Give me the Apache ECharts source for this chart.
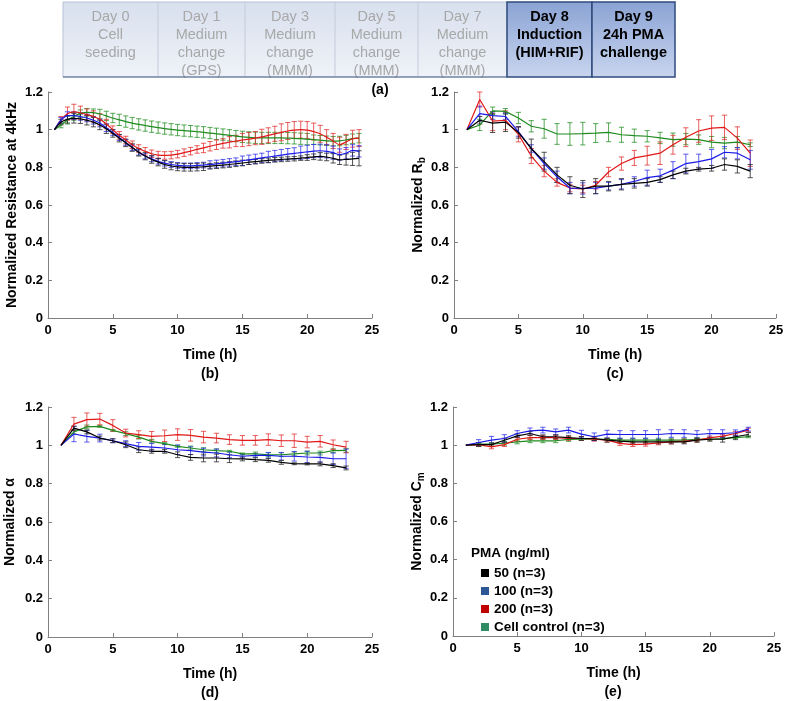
<!DOCTYPE html>
<html>
<head>
<meta charset="utf-8">
<script src="https://cdn.jsdelivr.net/npm/echarts@6/dist/echarts.min.js"></script>
<style>html,body{margin:0;padding:0;background:#fff}#c{width:787px;height:701px}</style>
</head>
<body>
<div id="c"></div>
<script>
// ---------------- DATA ----------------
const bannerText = [
  ['Day 0', 'Cell', 'seeding'],
  ['Day 1', 'Medium', 'change', '(GPS)'],
  ['Day 3', 'Medium', 'change', '(MMM)'],
  ['Day 5', 'Medium', 'change', '(MMM)'],
  ['Day 7', 'Medium', 'change', '(MMM)'],
  ['Day 8', 'Induction', '(HIM+RIF)'],
  ['Day 9', '24h PMA', 'challenge']
];
const groupNames = ['50 (n=3)', '100 (n=3)', '200 (n=3)', 'Cell control (n=3)'];
const legendTitle = 'PMA (ng/ml)';
const panelLabels = ['(a)', '(b)', '(c)', '(d)', '(e)'];
const yTitles = ['Normalized Resistance at 4kHz', 'Normalized R', 'Normalized α', 'Normalized C'];
const ySubs = ['', 'b', '', 'm'];
const xTitle = 'Time (h)';

// panel (b): resistance at 4 kHz, every 0.5 h
const hoursB = [0.5,1,1.5,2,2.5,3,3.5,4,4.5,5,5.5,6,6.5,7,7.5,8,8.5,9,9.5,10,10.5,11,11.5,12,12.5,13,13.5,14,14.5,15,15.5,16,16.5,17,17.5,18,18.5,19,19.5,20,20.5,21,21.5,22,22.5,23,23.5,24];
const b50  = [1.0,1.04,1.055,1.06,1.058,1.05,1.04,1.025,1.005,0.98,0.955,0.93,0.905,0.88,0.86,0.842,0.828,0.815,0.807,0.802,0.8,0.8,0.801,0.803,0.806,0.809,0.812,0.815,0.819,0.823,0.827,0.83,0.834,0.837,0.84,0.842,0.844,0.846,0.849,0.852,0.856,0.858,0.855,0.848,0.84,0.842,0.845,0.848];
const b50e = [0,0.015,0.02,0.025,0.025,0.025,0.025,0.025,0.025,0.02,0.02,0.02,0.02,0.02,0.02,0.02,0.02,0.02,0.02,0.02,0.02,0.02,0.02,0.02,0.015,0.015,0.015,0.015,0.015,0.015,0.012,0.012,0.012,0.012,0.012,0.012,0.012,0.012,0.012,0.015,0.015,0.02,0.02,0.025,0.025,0.03,0.035,0.04];
const b100  = [1.0,1.05,1.075,1.075,1.07,1.062,1.05,1.035,1.01,0.985,0.958,0.932,0.905,0.88,0.86,0.845,0.832,0.822,0.815,0.81,0.808,0.808,0.81,0.812,0.815,0.818,0.822,0.826,0.83,0.835,0.84,0.845,0.85,0.855,0.86,0.865,0.87,0.874,0.878,0.882,0.886,0.888,0.885,0.878,0.868,0.875,0.89,0.885];
const b100e = [0,0.015,0.02,0.02,0.02,0.02,0.02,0.02,0.02,0.015,0.015,0.015,0.015,0.015,0.015,0.015,0.015,0.015,0.015,0.015,0.015,0.015,0.015,0.015,0.02,0.02,0.02,0.02,0.02,0.025,0.025,0.025,0.025,0.03,0.03,0.03,0.03,0.03,0.035,0.035,0.035,0.035,0.035,0.035,0.03,0.03,0.03,0.03];
const b200  = [1.0,1.05,1.085,1.095,1.09,1.08,1.07,1.055,1.03,1.0,0.97,0.945,0.92,0.9,0.885,0.872,0.865,0.863,0.865,0.87,0.878,0.886,0.895,0.903,0.912,0.92,0.927,0.933,0.94,0.945,0.95,0.955,0.962,0.97,0.978,0.986,0.993,0.998,1.0,0.998,0.99,0.978,0.96,0.94,0.92,0.935,0.952,0.955];
const b200e = [0,0.02,0.035,0.04,0.035,0.03,0.03,0.03,0.025,0.02,0.02,0.02,0.02,0.02,0.02,0.02,0.02,0.02,0.02,0.02,0.02,0.02,0.02,0.025,0.025,0.025,0.025,0.03,0.03,0.035,0.035,0.035,0.04,0.04,0.04,0.045,0.045,0.045,0.045,0.045,0.045,0.045,0.04,0.04,0.04,0.04,0.045,0.045];
const bCtl  = [1.0,1.025,1.05,1.07,1.085,1.092,1.09,1.083,1.073,1.062,1.052,1.043,1.035,1.028,1.022,1.016,1.011,1.006,1.002,0.998,0.995,0.992,0.989,0.986,0.982,0.978,0.974,0.97,0.966,0.962,0.959,0.957,0.956,0.956,0.956,0.956,0.955,0.954,0.952,0.95,0.947,0.944,0.941,0.939,0.94,0.945,0.952,0.955];
const bCtle = [0,0.015,0.02,0.02,0.02,0.02,0.02,0.025,0.025,0.025,0.03,0.03,0.03,0.03,0.03,0.03,0.03,0.03,0.03,0.03,0.03,0.03,0.03,0.03,0.03,0.03,0.03,0.03,0.03,0.03,0.03,0.03,0.03,0.03,0.03,0.03,0.03,0.03,0.03,0.03,0.025,0.025,0.025,0.025,0.025,0.025,0.025,0.025];

// panels (c), (d), (e): hourly
const hours = [1,2,3,4,5,6,7,8,9,10,11,12,13,14,15,16,17,18,19,20,21,22,23];
const c50   = [1.0,1.05,1.035,1.04,0.985,0.9,0.83,0.76,0.705,0.685,0.70,0.70,0.71,0.715,0.72,0.735,0.76,0.78,0.79,0.795,0.815,0.805,0.78];
const c50e  = [0,0.02,0.05,0.05,0.03,0.05,0.05,0.04,0.045,0.045,0.04,0.025,0.03,0.025,0.02,0.015,0.02,0.015,0.01,0.015,0.03,0.035,0.035];
const c100  = [1.0,1.085,1.075,1.07,0.99,0.9,0.82,0.75,0.69,0.688,0.69,0.70,0.71,0.725,0.745,0.755,0.785,0.82,0.83,0.845,0.88,0.875,0.84];
const c100e = [0,0.04,0.02,0.015,0.025,0.02,0.03,0.03,0.03,0.03,0.03,0.02,0.025,0.025,0.04,0.035,0.045,0.05,0.04,0.05,0.03,0.03,0.05];
const c200  = [1.0,1.16,1.045,1.05,0.975,0.86,0.78,0.72,0.69,0.685,0.705,0.775,0.82,0.85,0.862,0.875,0.92,0.96,0.993,1.008,1.012,0.955,0.875];
const c200e = [0,0.04,0.05,0.05,0.04,0.04,0.03,0.02,0.02,0.02,0.02,0.025,0.035,0.04,0.05,0.06,0.05,0.05,0.06,0.065,0.065,0.06,0.07];
const cCtl  = [1.0,1.025,1.1,1.097,1.062,1.018,1.005,0.977,0.977,0.979,0.982,0.986,0.973,0.968,0.965,0.956,0.947,0.95,0.947,0.934,0.929,0.934,0.92];
const cCtle = [0,0.03,0.02,0.015,0.03,0.03,0.05,0.055,0.06,0.06,0.05,0.05,0.04,0.035,0.03,0.03,0.035,0.03,0.025,0.03,0.03,0.03,0.01];

const d50   = [1.0,1.09,1.07,1.038,1.024,1.003,0.977,0.969,0.969,0.951,0.937,0.934,0.934,0.93,0.929,0.925,0.922,0.911,0.904,0.903,0.903,0.894,0.882];
const d50e  = [0,0.01,0.01,0.01,0.01,0.015,0.015,0.01,0.01,0.015,0.015,0.02,0.02,0.02,0.01,0.01,0.01,0.01,0.005,0.005,0.01,0.01,0.01];
const d100  = [1.0,1.059,1.047,1.038,1.024,1.009,0.995,0.991,0.986,0.977,0.972,0.965,0.96,0.951,0.943,0.948,0.948,0.943,0.943,0.939,0.937,0.93,0.93];
const d100e = [0,0.04,0.03,0.02,0.01,0.015,0.02,0.02,0.02,0.025,0.02,0.02,0.02,0.015,0.01,0.01,0.015,0.02,0.025,0.03,0.025,0.03,0.05];
const d200  = [1.0,1.111,1.134,1.137,1.104,1.064,1.056,1.047,1.05,1.056,1.052,1.043,1.038,1.03,1.026,1.026,1.03,1.024,1.024,1.017,1.021,1.003,0.991];
const d200e = [0,0.035,0.035,0.03,0.03,0.02,0.02,0.025,0.03,0.03,0.03,0.03,0.025,0.025,0.025,0.025,0.03,0.03,0.035,0.03,0.03,0.025,0.03];
const dCtl  = [1.0,1.07,1.096,1.099,1.078,1.061,1.043,1.021,1.009,0.995,0.986,0.977,0.972,0.969,0.955,0.955,0.951,0.951,0.955,0.96,0.96,0.972,0.974];
const dCtle = [0,0.01,0.01,0.005,0.005,0.01,0.01,0.01,0.005,0.005,0.01,0.01,0.01,0.005,0.005,0.01,0.01,0.01,0.01,0.01,0.01,0.01,0.01];

const e50   = [1.0,1.003,1.003,1.026,1.049,1.061,1.044,1.044,1.04,1.035,1.035,1.026,1.021,1.017,1.017,1.017,1.017,1.017,1.026,1.031,1.031,1.044,1.056];
const e50e  = [0,0.01,0.01,0.01,0.01,0.01,0.01,0.01,0.01,0.01,0.01,0.01,0.01,0.01,0.01,0.01,0.01,0.01,0.01,0.01,0.015,0.015,0.01];
const e100  = [1.0,1.014,1.026,1.035,1.061,1.075,1.079,1.07,1.079,1.058,1.044,1.058,1.056,1.056,1.056,1.056,1.061,1.061,1.056,1.061,1.061,1.065,1.084];
const e100e = [0,0.015,0.02,0.02,0.015,0.015,0.015,0.015,0.015,0.02,0.02,0.02,0.02,0.02,0.02,0.025,0.02,0.02,0.02,0.02,0.02,0.015,0.01];
const e200  = [1.0,1.003,0.991,1.003,1.031,1.04,1.04,1.04,1.035,1.035,1.031,1.026,1.009,1.003,1.005,1.012,1.017,1.021,1.026,1.038,1.047,1.061,1.079];
const e200e = [0,0.01,0.01,0.01,0.01,0.01,0.01,0.01,0.01,0.01,0.01,0.01,0.01,0.01,0.01,0.01,0.01,0.01,0.01,0.01,0.01,0.01,0.01];
const eCtl  = [1.0,1.005,1.005,1.01,1.017,1.023,1.023,1.023,1.03,1.031,1.031,1.03,1.026,1.026,1.026,1.026,1.026,1.026,1.03,1.031,1.035,1.04,1.044];
const eCtle = [0,0.005,0.005,0.01,0.01,0.01,0.01,0.01,0.01,0.005,0.005,0.005,0.01,0.01,0.01,0.01,0.01,0.01,0.01,0.005,0.005,0.005,0.005];

const xTicks = {min: 0, max: 25, interval: 5};
const yTicks = {min: 0, max: 1.2, interval: 0.2};

// ---------------- STYLE / LAYOUT ----------------
const F = "'Liberation Sans', Arial, sans-serif";
const lineColors = ['#000000', '#1a1ae6', '#e01818', '#1f8a1f'];
const errColors  = ['rgba(40,40,40,0.8)', 'rgba(40,40,235,0.75)', 'rgba(225,40,40,0.75)', 'rgba(30,140,30,0.75)'];
const legendColors = ['#000000', '#2b5797', '#c00000', '#2e8b62'];
const GRIDS = [
  {left: 48,  top: 92,  width: 324, height: 226},
  {left: 454, top: 92,  width: 322, height: 226},
  {left: 48,  top: 407, width: 324, height: 230},
  {left: 453, top: 407, width: 321, height: 229}
];
const panels = [
  {x: hoursB, ys: [b50, b100, b200, bCtl], es: [b50e, b100e, b200e, bCtle], smooth: 0.3},
  {x: hours,  ys: [c50, c100, c200, cCtl], es: [c50e, c100e, c200e, cCtle], smooth: false},
  {x: hours,  ys: [d50, d100, d200, dCtl], es: [d50e, d100e, d200e, dCtle], smooth: false},
  {x: hours,  ys: [e50, e100, e200, eCtl], es: [e50e, e100e, e200e, eCtle], smooth: false}
];
const drawOrder = [3, 2, 1, 0];

function errRenderer(color) {
  return function (params, api) {
    const x = api.value(0), y = api.value(1), e = api.value(2);
    if (!e) return null;
    const hi = api.coord([x, y + e]);
    const lo = api.coord([x, y - e]);
    const w = 2.6;
    const st = {stroke: color, lineWidth: 1};
    return {type: 'group', children: [
      {type: 'line', shape: {x1: hi[0], y1: hi[1], x2: lo[0], y2: lo[1]}, style: st},
      {type: 'line', shape: {x1: hi[0] - w, y1: hi[1], x2: hi[0] + w, y2: hi[1]}, style: st},
      {type: 'line', shape: {x1: lo[0] - w, y1: lo[1], x2: lo[0] + w, y2: lo[1]}, style: st}
    ]};
  };
}

const axisColor = '#808080';
const xAxes = [], yAxes = [], series = [];
GRIDS.forEach((g, gi) => {
  xAxes.push({
    type: 'value', gridIndex: gi, min: xTicks.min, max: xTicks.max, interval: xTicks.interval,
    axisLine: {show: true, onZero: false, lineStyle: {color: axisColor, width: 1}},
    axisTick: {show: true, inside: true, length: 4, lineStyle: {color: axisColor}},
    axisLabel: {color: '#000', fontWeight: 'bold', fontSize: 13, fontFamily: F, margin: 6},
    splitLine: {show: false},
    name: xTitle, nameLocation: 'middle', nameGap: 30,
    nameTextStyle: {color: '#000', fontWeight: 'bold', fontSize: 14, fontFamily: F}
  });
  const sub = ySubs[gi];
  const yName = sub ? '{n|' + yTitles[gi] + '}{s|' + sub + '}' : yTitles[gi];
  yAxes.push({
    type: 'value', gridIndex: gi, min: yTicks.min, max: yTicks.max, interval: yTicks.interval,
    axisLine: {show: true, onZero: false, lineStyle: {color: axisColor, width: 1}},
    axisTick: {show: true, inside: true, length: 4, lineStyle: {color: axisColor}},
    axisLabel: {color: '#000', fontWeight: 'bold', fontSize: 13, fontFamily: F, margin: 5},
    splitLine: {show: false},
    name: yName, nameLocation: 'middle', nameGap: gi === 2 ? 31 : 29,
    nameTextStyle: {color: '#000', fontWeight: 'bold', fontSize: 14, fontFamily: F,
      rich: {
        n: {color: '#000', fontWeight: 'bold', fontSize: 14, fontFamily: F, lineHeight: 14, verticalAlign: 'top'},
        s: {color: '#000', fontWeight: 'bold', fontSize: 10, fontFamily: F, lineHeight: 12, verticalAlign: 'top', padding: [6, 0, 0, 0]}
      }}
  });
  const p = panels[gi];
  drawOrder.forEach(k => {
    series.push({
      type: 'custom', name: groupNames[k], xAxisIndex: gi, yAxisIndex: gi, silent: true,
      renderItem: errRenderer(errColors[k]),
      encode: {x: 0, y: 1},
      data: p.x.map((h, i) => [h, p.ys[k][i], p.es[k][i]]),
      z: 2
    });
    series.push({
      type: 'line', name: groupNames[k], xAxisIndex: gi, yAxisIndex: gi, silent: true,
      showSymbol: false, symbol: 'none', smooth: p.smooth,
      lineStyle: {color: lineColors[k], width: 1.2},
      itemStyle: {color: lineColors[k]},
      data: p.x.map((h, i) => [h, p.ys[k][i]]),
      z: 3
    });
  });
});

// banner graphics
const bannerEdges = [63, 158, 245, 335, 418, 507, 592, 675];
const bannerTop = 2, bannerBottom = 77;
const bannerLineY = [17, 35, 53, 71];
const G = [];
const lightFill = new echarts.graphic.LinearGradient(0, 0, 0, 1, [
  {offset: 0, color: '#d8e0ee'}, {offset: 1, color: '#eff2f8'}]);
const darkFill = new echarts.graphic.LinearGradient(0, 0, 0, 1, [
  {offset: 0, color: '#8aa3d4'}, {offset: 1, color: '#c9d5ef'}]);
G.push({type: 'rect', shape: {x: bannerEdges[0], y: bannerTop, width: bannerEdges[5] - bannerEdges[0], height: bannerBottom - bannerTop},
  style: {fill: lightFill, stroke: '#b7c2d6', lineWidth: 1}, z: 1});
for (let i = 1; i < 5; i++) {
  G.push({type: 'line', shape: {x1: bannerEdges[i], y1: bannerTop, x2: bannerEdges[i], y2: bannerBottom},
    style: {stroke: '#c3cbda', lineWidth: 1}, z: 2});
}
bannerText.forEach((lines, i) => {
  const dark = i >= 5;
  const cx = (bannerEdges[i] + bannerEdges[i + 1]) / 2;
  if (dark) {
    G.push({type: 'rect', shape: {x: bannerEdges[i], y: bannerTop, width: bannerEdges[i + 1] - bannerEdges[i], height: bannerBottom - bannerTop},
      style: {fill: darkFill, stroke: '#2f4b7c', lineWidth: 1.5}, z: 3});
  }
  lines.forEach((t, j) => {
    G.push({type: 'text', x: cx, y: bannerLineY[j], z: 4,
      style: {text: t, fill: dark ? '#000' : '#a8a8a8', font: (dark ? 'bold ' : '') + '14.5px ' + F,
        align: 'center', verticalAlign: 'middle'}});
  });
});
G.push({type: 'line', shape: {x1: bannerEdges[0], y1: bannerBottom, x2: bannerEdges[5], y2: bannerBottom},
  style: {stroke: '#4e648c', lineWidth: 1.2}, z: 5});

// panel labels
const labelPos = [[380, 90], [210, 374], [615, 374], [210, 693], [613, 692]];
panelLabels.forEach((t, i) => {
  G.push({type: 'text', x: labelPos[i][0], y: labelPos[i][1], z: 6,
    style: {text: t, fill: '#000', font: 'bold 14px ' + F, align: 'center', verticalAlign: 'middle'}});
});
// legend title
G.push({type: 'text', x: 471, y: 553, z: 6,
  style: {text: legendTitle, fill: '#000', font: 'bold 13.5px ' + F, align: 'left', verticalAlign: 'middle'}});

const chart = echarts.init(document.getElementById('c'), null, {renderer: 'canvas'});
chart.setOption({
  animation: false,
  backgroundColor: '#fff',
  grid: GRIDS.map(g => Object.assign({containLabel: false}, g)),
  xAxis: xAxes,
  yAxis: yAxes,
  legend: {
    orient: 'vertical', left: 476, top: 561, itemWidth: 8, itemHeight: 8, itemGap: 4,
    icon: 'rect', selectedMode: false,
    textStyle: {color: '#000', fontWeight: 'bold', fontSize: 13.5, fontFamily: F, lineHeight: 13},
    data: groupNames.map((n, k) => ({name: n, icon: 'rect', itemStyle: {color: legendColors[k]}}))
  },
  graphic: G,
  series: series
});
</script>
</body>
</html>
